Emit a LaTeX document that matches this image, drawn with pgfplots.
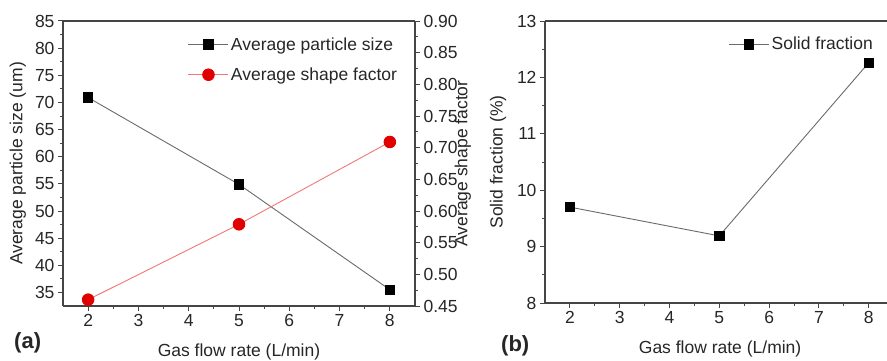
\documentclass[border=0pt]{standalone}
\usepackage{fontspec}
\setmainfont{Liberation Sans}
\usepackage{pgfplots}
\pgfplotsset{compat=1.18}
\definecolor{axgray}{HTML}{454545}
\definecolor{lgray}{HTML}{6A6A6A}
\definecolor{lred}{HTML}{F07878}
\definecolor{mred}{HTML}{E00000}
\definecolor{txt}{HTML}{262626}
\pgfplotsset{
  myax/.style={
    font=\fontsize{17.5}{20}\selectfont,
    /pgf/number format/assume math mode=true,
    scale only axis,
    axis line style={axgray, line width=1.3pt},
    tick style={axgray, line width=1pt},
    tick align=outside,
    major tick length=5pt, minor tick length=3pt,
    ticklabel style={text=txt},
    label style={text=txt},
    legend style={draw=none, fill=none, inner sep=0pt, row sep=12pt,
      nodes={text=txt, inner sep=2pt}},
    legend cell align=left,
    legend image code/.code={\draw[mark repeat=2,mark phase=2] plot coordinates {(0pt,0pt)(20pt,0pt)(40pt,0pt)};},
  },
  sqstyle/.style={lgray, line width=0.9pt, mark=square*, mark size=4.7pt, mark options={black, fill=black, solid}},
  cstyle/.style={lred, line width=0.9pt, mark=*, mark size=5.8pt, mark options={mred, fill=mred, draw=mred, solid}},
}
\begin{document}
\begin{tikzpicture}
\useasboundingbox (0,0) rectangle (887pt,360pt);
% ---------- panel (a), left axis
\begin{axis}[myax,
  at={(63pt,54pt)}, anchor=south west,
  width=352pt, height=285pt,
  xmin=1.5, xmax=8.5, ymin=32.5, ymax=85,
  xtick={2,3,...,8}, ytick={35,40,...,85},
  minor x tick num=1, minor y tick num=1,
  axis y line*=left, axis x line*=box, xtick pos=bottom,
  xlabel={Gas flow rate (L/min)},
  ylabel={Average particle size (um)},
  xlabel style={at={(axis description cs:0.5,0)}, anchor=base, yshift=-50pt},
  ylabel style={at={(axis description cs:-0.128,0.5)}, anchor=center},
]
\addplot[sqstyle] coordinates {(2,70.9) (5,54.9) (8,35.5)};
\end{axis}
% ---------- panel (a), right axis
\begin{axis}[myax,
  at={(63pt,54pt)}, anchor=south west,
  width=352pt, height=285pt,
  xmin=1.5, xmax=8.5, ymin=0.45, ymax=0.90,
  ytick={0.45,0.50,...,0.91},
  minor y tick num=1,
  axis y line*=right, axis x line=none,
  yticklabel style={/pgf/number format/.cd, fixed, fixed zerofill, precision=2},
  ylabel={Average shape factor},
  ylabel style={at={(axis description cs:1.136,0.5)}, anchor=center, rotate=0},
  legend style={at={(axis description cs:0.955,0.95)}, anchor=north east},
]
\addlegendimage{sqstyle}
\addlegendentry{Average particle size}
\addplot[cstyle] coordinates {(2,0.460) (5,0.579) (8,0.709)};
\addlegendentry{Average shape factor}
\end{axis}
% ---------- panel (b)
\begin{axis}[myax,
  at={(545pt,57pt)}, anchor=south west,
  width=342pt, height=282pt,
  xmin=1.5, xmax=8.367, ymin=8, ymax=13,
  xtick={2,3,...,8}, ytick={8,9,...,13},
  minor x tick num=1, minor y tick num=1,
  axis y line*=left, axis x line*=box, xtick pos=bottom,
  xlabel={Gas flow rate (L/min)},
  ylabel={Solid fraction (\%)},
  xlabel style={at={(axis description cs:0.512,0)}, anchor=base, yshift=-50pt},
  ylabel style={at={(axis description cs:-0.137,0.5)}, anchor=center},
  legend style={at={(axis description cs:0.965,0.95)}, anchor=north east},
]
\addplot[sqstyle] coordinates {(2,9.70) (5,9.19) (8,12.26)};
\addlegendentry{Solid fraction}
\end{axis}
\node[anchor=base west, inner sep=0pt, text=txt, font=\fontsize{22}{24}\selectfont\bfseries] at (14pt,12pt) {(a)};
\node[anchor=base west, inner sep=0pt, text=txt, font=\fontsize{22}{24}\selectfont\bfseries] at (501pt,9pt) {(b)};
\end{tikzpicture}
\end{document}
